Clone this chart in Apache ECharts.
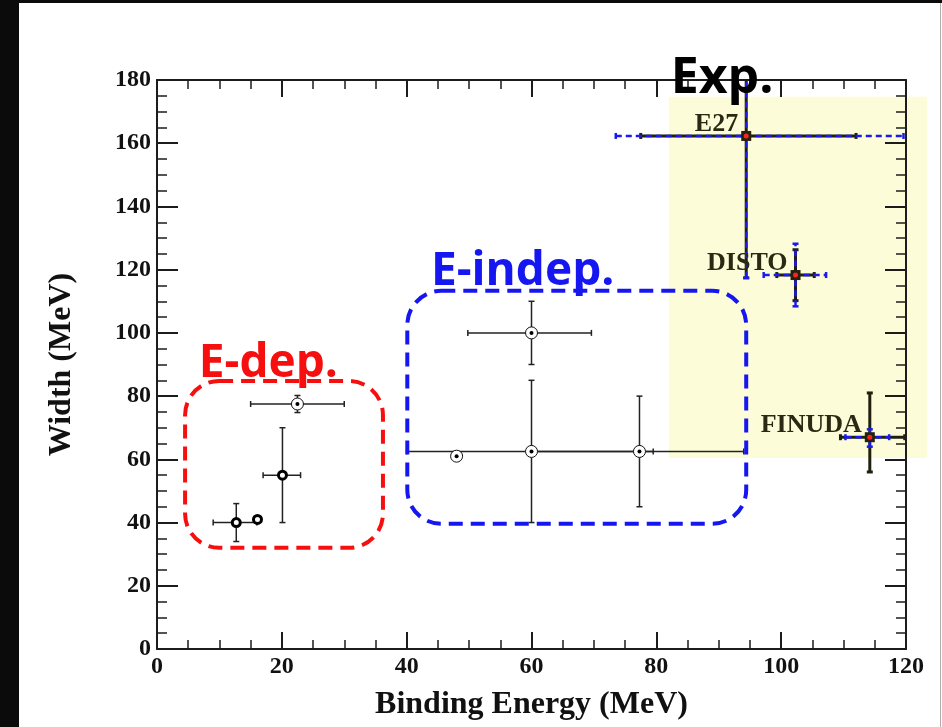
<!DOCTYPE html>
<html>
<head>
<meta charset="utf-8">
<script src="https://cdn.jsdelivr.net/npm/echarts@6/dist/echarts.min.js"></script>
<style>
  html, body { margin: 0; padding: 0; background: #fff; }
  #chart { width: 942px; height: 727px; }
</style>
</head>
<body>
<div id="chart"></div>
<script>
// ---- Theory: energy-dependent models (thick open circles) ----
const eDepX = [12.7, 16.1, 20.1];
const eDepY = [40, 41, 55];

// ---- Theory points drawn as circle with a central dot ----
const dotX = [22.5, 60, 48, 60, 77.3];
const dotY = [77.5, 100, 61, 62.5, 62.5];

// ---- Theory error bars: [x, y, xLow, xHigh, yLow, yHigh] ----
const theoryErrors = [
  [12.7, 40, 9, 16, 34, 46],
  [20.1, 55, 17, 23, 40, 70],
  [22.5, 77.5, 15, 30, 74.8, 80.2],
  [60, 100, 49.8, 69.6, 90, 110],
  [60, 62.5, 40, 79.5, 40, 85],
  [77.3, 62.5, 60, 94, 45, 80]
];

// ---- Experiments ----
const expNames = ['E27', 'DISTO', 'FINUDA'];
const expX = [94.4, 102.3, 114.2];
const expY = [162.3, 118.3, 67];
const expStatX = [[77.5, 112], [99.3, 105.3], [109.5, 119.8]];
const expStatY = [[117.4, 207], [110.2, 126.3], [56, 81]];
const expSysX = [[73.5, 119.6], [97.2, 107.2], [110.3, 117.3]];
const expSysY = [[117.4, 207], [108.4, 128.2], [64, 69.5]];

// ---- Highlighted regions (data space) ----
const expBand = [82, 60.4, 123.4, 174.7];           // x0, y0, x1, y1
const groupBoxes = [
  [4.5, 32, 36.2, 84.8],                            // E-dep.
  [40.1, 39.6, 94.4, 113.3]                         // E-indep.
];
const groupLabels = ['E-dep.', 'E-indep.', 'Exp.'];
const groupLabelAnchors = [[6.7, 90.2], [43.9, 119.4], [82.3, 180.4]];
const groupLabelSizes = [46, 46, 50];

const X_MIN = 0, X_MAX = 120, Y_MIN = 0, Y_MAX = 180;
const INK = '#1c1c1c';
const SERIF = '"Liberation Serif", "Times New Roman", serif';
const SANS = '"Open Sans", "Noto Sans", sans-serif';
const groupColors = ['#f50f0f', '#1616f0', '#000000'];

const clampX = v => Math.max(X_MIN, Math.min(X_MAX, v));
const clampY = v => Math.max(Y_MIN, Math.min(Y_MAX, v));

function line(p, q, style) {
  return { type: 'line', shape: { x1: p[0], y1: p[1], x2: q[0], y2: q[1] }, style: style };
}

// Error bar cross with caps; caps are dropped where the bar is cut at the frame.
function errorCross(api, x, y, xl, xh, yl, yh, style, cap) {
  const kids = [];
  const cxl = clampX(xl), cxh = clampX(xh), cyl = clampY(yl), cyh = clampY(yh);
  const a = api.coord([cxl, y]), b = api.coord([cxh, y]);
  const c = api.coord([x, cyl]), d = api.coord([x, cyh]);
  kids.push(line(a, b, style));
  kids.push(line(c, d, style));
  if (cxl === xl) kids.push(line([a[0], a[1] - cap], [a[0], a[1] + cap], style));
  if (cxh === xh) kids.push(line([b[0], b[1] - cap], [b[0], b[1] + cap], style));
  if (cyl === yl) kids.push(line([c[0] - cap, c[1]], [c[0] + cap, c[1]], style));
  if (cyh === yh) kids.push(line([d[0] - cap, d[1]], [d[0] + cap, d[1]], style));
  return kids;
}

const chart = echarts.init(document.getElementById('chart'), null, { renderer: 'canvas' });

const axisLineStyle = { color: INK, width: 2 };
function xAxisDef(pos) {
  return {
    type: 'value', position: pos, min: X_MIN, max: X_MAX, interval: 20,
    axisLine: { show: true, onZero: false, lineStyle: axisLineStyle },
    axisTick: { show: true, inside: true, length: 17, lineStyle: { color: INK, width: 2 } },
    minorTick: { show: true, splitNumber: 4, length: 9, lineStyle: { color: INK, width: 1.5 } },
    splitLine: { show: false },
    axisLabel: pos === 'bottom'
      ? { show: true, fontFamily: SERIF, fontWeight: 'bold', fontSize: 24, color: '#111', margin: 6 }
      : { show: false }
  };
}
function yAxisDef(pos) {
  return {
    type: 'value', position: pos, min: Y_MIN, max: Y_MAX, interval: 20,
    axisLine: { show: true, onZero: false, lineStyle: axisLineStyle },
    axisTick: { show: true, inside: true, length: 21, lineStyle: { color: INK, width: 2 } },
    minorTick: { show: true, splitNumber: 4, length: 10, lineStyle: { color: INK, width: 1.5 } },
    splitLine: { show: false },
    axisLabel: pos === 'left'
      ? { show: true, fontFamily: SERIF, fontWeight: 'bold', fontSize: 24, color: '#111', margin: 6 }
      : { show: false }
  };
}

const xBottom = Object.assign(xAxisDef('bottom'), {
  name: 'Binding Energy (MeV)', nameLocation: 'middle', nameGap: 40,
  nameTextStyle: { fontFamily: SERIF, fontWeight: 'bold', fontSize: 32, color: '#111' }
});
const yLeft = Object.assign(yAxisDef('left'), {
  name: 'Width (MeV)', nameLocation: 'middle', nameGap: 79,
  nameTextStyle: { fontFamily: SERIF, fontWeight: 'bold', fontSize: 32, color: '#111' }
});

const option = {
  animation: false,
  backgroundColor: '#ffffff',
  grid: { left: 157, right: 36, top: 80, bottom: 78, containLabel: false },
  xAxis: [xBottom, xAxisDef('top')],
  yAxis: [yLeft, yAxisDef('right')],
  graphic: [
    // page frame strips
    { type: 'rect', left: 0, top: 0, shape: { width: 19, height: 727 }, style: { fill: '#0b0b0b' }, z: 100 },
    { type: 'rect', left: 0, top: 0, shape: { width: 942, height: 3 }, style: { fill: '#0b0b0b' }, z: 100 },
    { type: 'rect', left: 940, top: 3, shape: { width: 1, height: 724 }, style: { fill: '#b0b0b0' }, z: 100 }
  ],
  series: [
    // experimental region band
    {
      type: 'custom', z: 0, silent: true, clip: false,
      data: [expBand], encode: { x: [0, 2], y: [1, 3] },
      renderItem: function (params, api) {
        const p0 = api.coord([api.value(0), api.value(3)]);
        const p1 = api.coord([api.value(2), api.value(1)]);
        return { type: 'rect', shape: { x: p0[0], y: p0[1], width: p1[0] - p0[0], height: p1[1] - p0[1] },
                 style: { fill: '#fdfcd8' }, z2: 0 };
      }
    },
    // theory error bars
    {
      type: 'custom', z: 3, silent: true,
      data: theoryErrors, encode: { x: 0, y: 1 },
      renderItem: function (params, api) {
        const v = [0, 1, 2, 3, 4, 5].map(i => api.value(i));
        return { type: 'group',
                 children: errorCross(api, v[0], v[1], v[2], v[3], v[4], v[5],
                                      { stroke: '#222', lineWidth: 1.5 }, 3) };
      }
    },
    // grouping boxes
    {
      type: 'custom', z: 4, silent: true, clip: false,
      data: groupBoxes, encode: { x: [0, 2], y: [1, 3] },
      renderItem: function (params, api) {
        const p0 = api.coord([api.value(0), api.value(3)]);
        const p1 = api.coord([api.value(2), api.value(1)]);
        return { type: 'rect',
                 shape: { x: p0[0], y: p0[1], width: p1[0] - p0[0], height: p1[1] - p0[1], r: 34 },
                 style: { fill: 'none', stroke: groupColors[params.dataIndex], lineWidth: 4, lineDash: [14, 8] } };
      }
    },
    // experimental error bars: statistical (solid dark) and systematic (blue dashed)
    {
      type: 'custom', z: 5, silent: true,
      data: expX.map((x, i) => [x, expY[i]]), encode: { x: 0, y: 1 },
      renderItem: function (params, api) {
        const i = params.dataIndex;
        const x = expX[i], y = expY[i];
        const stat = errorCross(api, x, y, expStatX[i][0], expStatX[i][1], expStatY[i][0], expStatY[i][1],
                                { stroke: '#202010', lineWidth: 3 }, 3);
        const sys = errorCross(api, x, y, expSysX[i][0], expSysX[i][1], expSysY[i][0], expSysY[i][1],
                               { stroke: '#1a1aee', lineWidth: 2.5, lineDash: [6, 4] }, 3);
        return { type: 'group', children: stat.concat(sys) };
      }
    },
    // energy-dependent theory markers
    {
      type: 'scatter', z: 6, symbol: 'circle', symbolSize: 8,
      itemStyle: { color: '#ffffff', borderColor: '#000', borderWidth: 3, opacity: 1 },
      data: eDepX.map((x, i) => [x, eDepY[i]])
    },
    // circle-with-dot markers
    {
      type: 'scatter', z: 6, symbol: 'circle', symbolSize: 12,
      itemStyle: { color: '#ffffff', borderColor: '#111', borderWidth: 1, opacity: 1 },
      data: dotX.map((x, i) => [x, dotY[i]])
    },
    {
      type: 'scatter', z: 7, symbol: 'circle', symbolSize: 4,
      itemStyle: { color: '#000', opacity: 1 },
      data: dotX.map((x, i) => [x, dotY[i]])
    },
    // experimental markers with names
    {
      type: 'scatter', z: 8, symbol: 'rect', symbolSize: 10,
      itemStyle: { color: '#22220e', opacity: 1 },
      data: expX.map((x, i) => ({ name: expNames[i], value: [x, expY[i]] })),
      label: {
        show: true, position: 'left', distance: 3, offset: [0, -12],
        formatter: '{b}', fontFamily: SERIF, fontWeight: 'bold', fontSize: 26, color: '#2a2a14'
      }
    },
    {
      type: 'scatter', z: 9, symbol: 'circle', symbolSize: 5,
      itemStyle: { color: '#ff2020', opacity: 1 },
      data: expX.map((x, i) => [x, expY[i]])
    },
    // group titles
    {
      type: 'custom', z: 10, silent: true, clip: false,
      data: groupLabelAnchors, encode: { x: 0, y: 1 },
      renderItem: function (params, api) {
        const i = params.dataIndex;
        const p = api.coord([api.value(0), api.value(1)]);
        return { type: 'text', x: p[0], y: p[1],
                 style: { text: groupLabels[i], fill: groupColors[i],
                          font: 'bold ' + groupLabelSizes[i] + 'px ' + SANS, align: 'left', verticalAlign: 'middle' } };
      }
    }
  ]
};

chart.setOption(option);
</script>
</body>
</html>
